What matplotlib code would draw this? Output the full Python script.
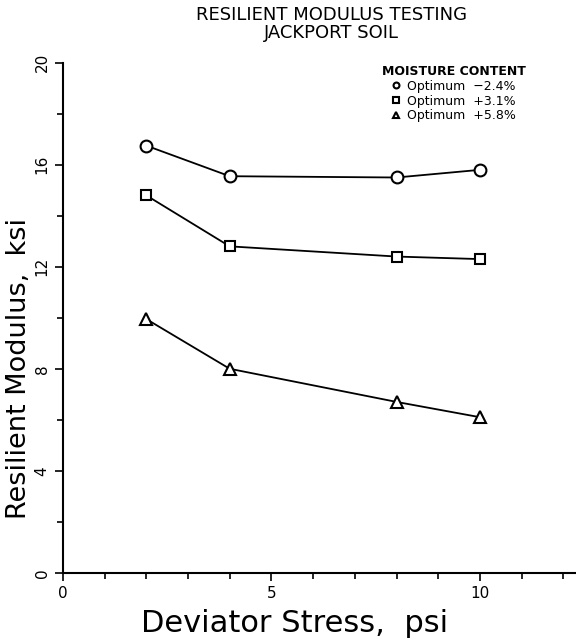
import matplotlib
matplotlib.use("Agg")
import matplotlib.pyplot as plt
from matplotlib.ticker import MultipleLocator

stress = [2, 4, 8, 10]
mr_minus24 = [16.75, 15.55, 15.5, 15.8]
mr_plus31 = [14.8, 12.8, 12.4, 12.3]
mr_plus58 = [9.95, 8.0, 6.7, 6.1]
labels = ["Optimum  \u22122.4%", "Optimum  +3.1%", "Optimum  +5.8%"]

fig = plt.figure(figsize=(5.76, 6.4), dpi=100)
ax = fig.add_axes([0.109, 0.105, 0.891, 0.797])

ax.plot(stress, mr_minus24, "-o", color="k", mfc="white", ms=8.5, lw=1.3, mew=1.5, label=labels[0])
ax.plot(stress, mr_plus31, "-s", color="k", mfc="white", ms=7.5, lw=1.3, mew=1.5, label=labels[1])
ax.plot(stress, mr_plus58, "-^", color="k", mfc="white", ms=8, lw=1.3, mew=1.5, label=labels[2])

ax.set_xlim(0, 12.3)
ax.set_ylim(0, 20)
ax.xaxis.set_major_locator(MultipleLocator(5))
ax.xaxis.set_minor_locator(MultipleLocator(1))
ax.yaxis.set_major_locator(MultipleLocator(4))
ax.yaxis.set_minor_locator(MultipleLocator(2))
ax.tick_params(which="both", direction="out", width=1.2, labelsize=11)
ax.tick_params(which="major", length=6)
ax.tick_params(which="minor", length=4)
for lab in ax.get_yticklabels():
    lab.set_rotation(90)
    lab.set_va("center")
for side in ("top", "right"):
    ax.spines[side].set_visible(False)
for side in ("left", "bottom"):
    ax.spines[side].set_linewidth(1.5)

ax.set_xlabel("Deviator Stress,  psi", fontsize=22)
ax.xaxis.set_label_coords(0.452, -0.10)
ax.set_ylabel("Resilient Modulus,  ksi", fontsize=19.5)
ax.yaxis.set_label_coords(-0.086, 0.40)
ax.xaxis.label.set_va("center")
ax.yaxis.label.set_va("center")

fig.text(0.575, 0.99, "RESILIENT MODULUS TESTING\nJACKPORT SOIL", ha="center", va="top",
         fontsize=13, linespacing=0.95)

leg = ax.legend(loc="upper left", bbox_to_anchor=(0.605, 1.013), frameon=False, fontsize=9,
                title="MOISTURE CONTENT", handlelength=0.6, handletextpad=0.6,
                labelspacing=0.15, borderpad=0.2, markerscale=0.5)
leg.get_title().set_fontsize(9)
leg.get_title().set_fontweight("bold")
for h in leg.legend_handles:
    h.set_linestyle("none")

fig.savefig("out.png", dpi=100)
